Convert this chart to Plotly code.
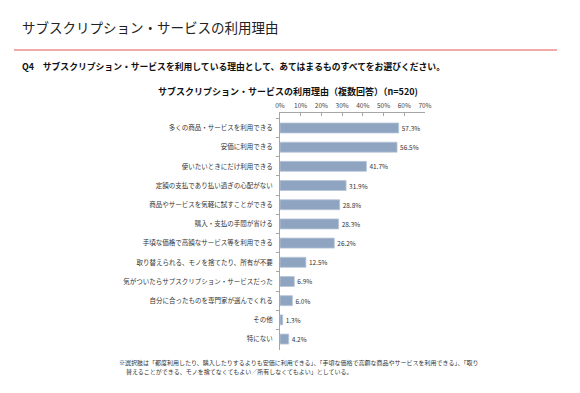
import plotly.graph_objects as go

categories = [
    "多くの商品・サービスを利用できる",
    "安価に利用できる",
    "使いたいときにだけ利用できる",
    "定額の支払であり払い過ぎの心配がない",
    "商品やサービスを気軽に試すことができる",
    "購入・支払の手間が省ける",
    "手頃な価格で高額なサービス等を利用できる",
    "取り替えられる、モノを捨てたり、所有が不要",
    "気がついたらサブスクリプション・サービスだった",
    "自分に合ったものを専門家が選んでくれる",
    "その他",
    "特にない",
]
values = [57.3, 56.5, 41.7, 31.9, 28.8, 28.3, 26.2, 12.5, 6.9, 6.0, 1.3, 4.2]
x_ticks = [0, 10, 20, 30, 40, 50, 60, 70]
x_tick_labels = ["0%", "10%", "20%", "30%", "40%", "50%", "60%", "70%"]

OFF = 8  # browser default body margin
W, H = 580 - OFF, 393 - OFF
L, R, T, B = 280 - OFF, 425 - OFF, 113 - OFF, 350 - OFF
FONT = "Noto Sans CJK JP"


def px(x):
    return (x - OFF - L) / (R - L)


def py(y):
    return (B - (y - OFF)) / (B - T)


fig = go.Figure(
    go.Bar(
        x=values,
        y=categories,
        orientation="h",
        width=0.52,
        marker=dict(color="#8ea4c0", line=dict(color="#b7c5d8", width=0.8)),
        text=[f"{v:.1f}%" for v in values],
        textposition="outside",
        textfont=dict(size=6.5, color="#333333", family=FONT),
        cliponaxis=False,
    )
)

fig.update_layout(
    width=W,
    height=H,
    margin=dict(l=L, r=W - R, t=T, b=H - B, pad=0, autoexpand=False),
    paper_bgcolor="white",
    plot_bgcolor="white",
    showlegend=False,
    font=dict(family=FONT, color="#333333"),
    xaxis=dict(
        side="top",
        range=[0, 70],
        tickvals=x_ticks,
        ticktext=x_tick_labels,
        tickfont=dict(size=6.5, color="#444444"),
        showgrid=False,
        zeroline=False,
        showline=True,
        linecolor="#a6a6a6",
        linewidth=1,
        ticks="inside",
        ticklen=3,
        tickcolor="#a6a6a6",
        ticklabelstandoff=1,
        fixedrange=True,
    ),
    yaxis=dict(
        categoryorder="array",
        categoryarray=categories,
        range=[11.57, -0.78],
        tickfont=dict(size=6.5, color="#333333"),
        showgrid=False,
        zeroline=False,
        showline=True,
        linecolor="#a6a6a6",
        linewidth=1,
        ticks="outside",
        tickson="boundaries",
        ticklen=3,
        tickcolor="#a6a6a6",
        ticklabelstandoff=5,
        fixedrange=True,
    ),
)

annos = [
    dict(text="サブスクリプション・サービスの利用理由", x=px(20), y=py(27),
         xanchor="left", yanchor="middle", font=dict(size=13.5, color="#222222")),
    dict(text="<b>Q4　サブスクリプション・サービスを利用している理由として、あてはまるものすべてをお選びください。</b>",
         x=px(20), y=py(67), xanchor="left", yanchor="middle",
         font=dict(size=8.8, color="#111111")),
    dict(text="<b>サブスクリプション・サービスの利用理由（複数回答）（n=520)</b>",
         x=px(288), y=py(91), xanchor="center", yanchor="middle",
         font=dict(size=9, color="#111111")),
    dict(text="※選択肢は「都度利用したり、購入したりするよりも安価に利用できる」、「手頃な価格で高額な商品やサービスを利用できる」、「取り",
         x=px(117), y=py(362), xanchor="left", yanchor="middle",
         font=dict(size=6.0, color="#333333")),
    dict(text="替えることができる、モノを捨てなくてもよい／所有しなくてもよい」としている。",
         x=px(124), y=py(371), xanchor="left", yanchor="middle",
         font=dict(size=6.0, color="#333333")),
]
for a in annos:
    a.update(xref="paper", yref="paper", showarrow=False)
    fig.add_annotation(**a)

fig.add_shape(type="line", xref="paper", yref="paper",
              x0=px(14), x1=px(557), y0=py(50), y1=py(50),
              line=dict(color="#f08c8c", width=1.5))

fig.write_html("out.html")
